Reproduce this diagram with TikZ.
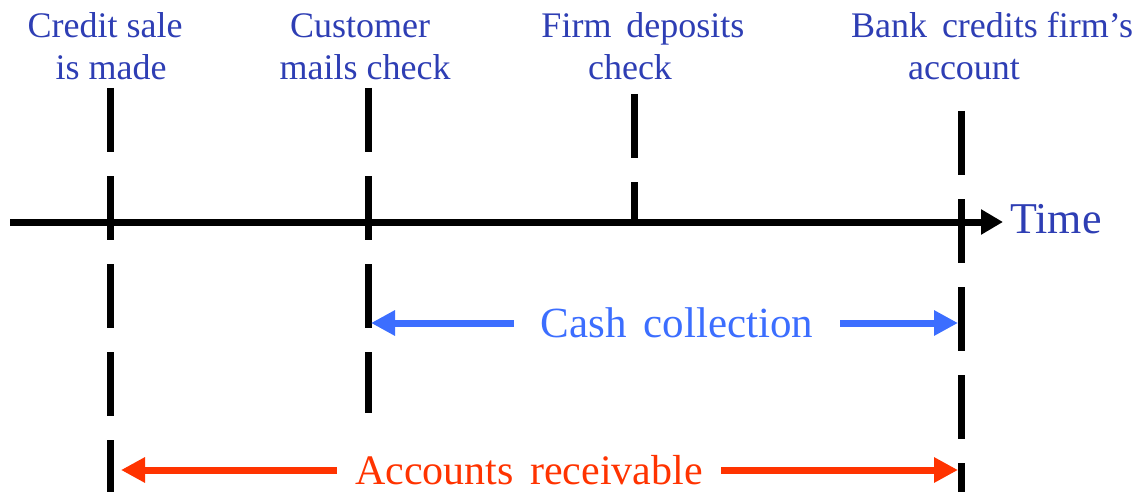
\documentclass[tikz,border=0pt]{standalone}
\usepackage{fontspec}
\setmainfont{Liberation Serif}
\usetikzlibrary{arrows.meta}
\definecolor{labelblue}{RGB}{46,62,180}
\definecolor{cashblue}{RGB}{60,110,255}
\definecolor{arred}{RGB}{255,51,0}
\tikzset{
  vdash/.style={line width=7pt, dash pattern=on 64pt off 24pt},
  axisline/.style={line width=7pt, -{Triangle[length=22pt,width=24pt]}},
  toplabel/.style={font=\fontsize{36}{40}\selectfont, text=labelblue, inner sep=0pt, anchor=base},
  cashlabel/.style={font=\fontsize{43}{48}\selectfont, text=cashblue, inner ysep=0pt, inner xsep=27pt},
  arlabel/.style={font=\fontsize{42}{48}\selectfont, text=arred, inner ysep=0pt, inner xsep=18pt},
  casharrow/.style={draw=cashblue, line width=7pt, -{Triangle[length=24pt,width=24pt]}},
  ararrow/.style={draw=arred, line width=7pt, -{Triangle[length=24pt,width=24pt]}},
}
\begin{document}
\begin{tikzpicture}[x=1pt,y=-1pt]
\useasboundingbox (0,0) rectangle (1138,492);
% top labels
\node[toplabel] (sale1) at (105,38) {Credit sale};
\node[toplabel] (sale2) at (111,80) {is made};
\node[toplabel] (mail1) at (360,38) {Customer};
\node[toplabel] (mail2) at (365,80) {mails check};
\node[toplabel] (dep1) at (643,38) {Firm\hspace{6pt} deposits};
\node[toplabel] (dep2) at (630,80) {check};
\node[toplabel] (bank1) at (992,38) {Bank\hspace{6pt} credits firm’s};
\node[toplabel] (bank2) at (964,80) {account};
% dashed event lines
\coordinate (aTop) at (110,88);  \coordinate (aBot) at (110,492);
\coordinate (bTop) at (368,88);  \coordinate (bBot) at (368,413);
\coordinate (cTop) at (634,94);  \coordinate (cBot) at (634,222);
\coordinate (dTop) at (961,111); \coordinate (dBot) at (961,492);
\draw[vdash] (aTop) -- (aBot);
\draw[vdash] (bTop) -- (bBot);
\draw[vdash] (cTop) -- (cBot);
\draw[vdash] (dTop) -- (dBot);
% time axis
\coordinate (axStart) at (10,222);
\coordinate (axEnd) at (1003,222);
\draw[axisline] (axStart) -- (axEnd);
\node[font=\fontsize{44}{48}\selectfont, text=labelblue, inner sep=0pt, anchor=base west] (time) at (1010,233) {Time};
% cash collection
\node[cashlabel] (cc) at (677,323) {Cash\hspace{6pt} collection};
\coordinate (ccL) at (371,323);
\coordinate (ccR) at (958,323);
\draw[casharrow] (cc.west) -- (ccL);
\draw[casharrow] (cc.east) -- (ccR);
% accounts receivable
\node[arlabel] (ar) at (529,470) {Accounts\hspace{6pt} receivable};
\coordinate (arL) at (121,470);
\coordinate (arR) at (958,470);
\draw[ararrow] (ar.west) -- (arL);
\draw[ararrow] (ar.east) -- (arR);
\end{tikzpicture}
\end{document}
